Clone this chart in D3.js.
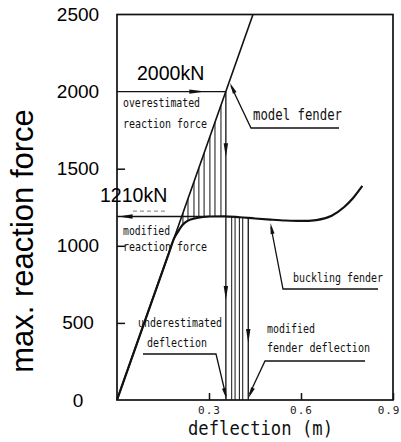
<!DOCTYPE html>
<html><head><meta charset="utf-8">
<script src="https://cdn.jsdelivr.net/npm/d3@7"></script>
<style>body{margin:0;background:#fff}svg{display:block}</style>
</head><body><svg id="c" width="401" height="442"></svg>
<script>
// ---- data ----
const yTicks = [0, 500, 1000, 1500, 2000, 2500];
const yTickMarks = [500, 1000, 1500];
const xTicks = [0.3, 0.6, 0.9];
const xTickLabels = ["0.3", "0.6", "0.9"];
const modelFender = [[0, 0], [0.4434, 2500]];
const bucklingFender = [[0,0],[0.10,564],[0.17,958],[0.185,1043],[0.2,1095],[0.215,1138],[0.23,1162],[0.26,1180],[0.30,1190],[0.35,1191],[0.40,1185],[0.45,1177],[0.50,1170],[0.55,1164],[0.60,1161],[0.65,1167],[0.70,1195],[0.74,1250],[0.77,1310],[0.80,1388]];
const designForce = 2000;      // "2000kN"
const modifiedForce = 1190;    // level of the "1210kN" line as drawn
const overDefl = 0.355;        // underestimated deflection
const modDefl = 0.428;         // modified fender deflection
const overHatchX = [0.215, 0.2315, 0.251, 0.267, 0.284, 0.303, 0.3195, 0.339];
const modHatchX = [0.374, 0.385, 0.399, 0.410];

// ---- setup ----
const svg = d3.select("#c");
const L = 117, R = 393, T = 14.5, B = 400;
const x = d3.scaleLinear().domain([0, 0.9]).range([L, R]);
const y = d3.scaleLinear().domain([0, 2500]).range([B, T]);
const ink = "#111";
const mono = "'DejaVu Sans Mono', 'Liberation Mono', monospace";
const sans = "'Liberation Sans', Arial, sans-serif";

const modelAt = v => modelFender[1][1] / modelFender[1][0] * v;
function buckAt(v) {
  for (let i = 1; i < bucklingFender.length; i++) {
    const [x0, y0] = bucklingFender[i - 1], [x1, y1] = bucklingFender[i];
    if (v <= x1) return y0 + (y1 - y0) * (v - x0) / (x1 - x0);
  }
  return bucklingFender[bucklingFender.length - 1][1];
}
function arrow(tx, ty, dir, len = 13, w = 2.2) {
  let dx, dy;
  if (Array.isArray(dir)) { const n = Math.hypot(dir[0], dir[1]); dx = dir[0] / n; dy = dir[1] / n; }
  else { const m = { r: [1, 0], l: [-1, 0], d: [0, 1], u: [0, -1] }[dir]; dx = m[0]; dy = m[1]; }
  const bx = tx - dx * len, by = ty - dy * len, px = -dy * w, py = dx * w;
  svg.append("path").attr("d", `M${tx},${ty}L${bx + px},${by + py}L${bx - px},${by - py}Z`).attr("fill", ink);
}
svg.append("clipPath").attr("id", "pc").append("rect").attr("x", L).attr("y", T).attr("width", R - L).attr("height", B - T);

// ---- hatching ----
const g = svg.append("g").attr("stroke", ink).attr("stroke-width", 1);
overHatchX.forEach(v => g.append("line").attr("x1", x(v)).attr("x2", x(v)).attr("y1", y(Math.min(modelAt(v), designForce))).attr("y2", y(buckAt(v))));
modHatchX.forEach(v => g.append("line").attr("x1", x(v)).attr("x2", x(v)).attr("y1", y(buckAt(v))).attr("y2", y(0)));

// ---- curves ----
const line = d3.line().x(d => x(d[0])).y(d => y(d[1]));
svg.append("path").datum(modelFender).attr("d", line).attr("fill", "none").attr("stroke", ink).attr("stroke-width", 1.6).attr("clip-path", "url(#pc)");
svg.append("path").datum(bucklingFender).attr("d", line.curve(d3.curveMonotoneX)).attr("fill", "none").attr("stroke", ink).attr("stroke-width", 2.2);

// ---- reference lines & arrows ----
const ref = svg.append("g").attr("stroke", ink).attr("stroke-width", 1.3);
ref.append("line").attr("x1", x(0)).attr("x2", x(overDefl)).attr("y1", y(designForce)).attr("y2", y(designForce));
arrow(x(0.288), y(designForce), "r", 16);
ref.append("line").attr("x1", x(overDefl)).attr("x2", x(overDefl)).attr("y1", y(designForce)).attr("y2", y(0));
arrow(x(overDefl), y(1574), "d", 14);
arrow(x(overDefl), y(648), "d", 14);
ref.append("line").attr("x1", x(modDefl)).attr("x2", x(modDefl)).attr("y1", y(buckAt(modDefl))).attr("y2", y(0));
arrow(x(modDefl), y(369), "d", 14);
ref.append("line").attr("x1", x(0)).attr("x2", x(0.30)).attr("y1", y(modifiedForce)).attr("y2", y(modifiedForce));
arrow(x(0.005), y(modifiedForce), "l", 14);
svg.append("line").attr("x1", x(0.052)).attr("x2", x(0.157)).attr("y1", y(1225)).attr("y2", y(1225))
  .attr("stroke", "#777").attr("stroke-width", 1).attr("stroke-dasharray", "4,3");

// ---- frame & axes ----
svg.append("rect").attr("x", L).attr("y", T).attr("width", R - L).attr("height", B - T)
  .attr("fill", "none").attr("stroke", ink).attr("stroke-width", 1.7);
const ya = svg.append("g").attr("transform", `translate(${L},0)`)
  .call(d3.axisLeft(y).tickValues(yTicks).tickFormat(d3.format("d")).tickSizeInner(0).tickSizeOuter(0).tickPadding(0));
ya.select(".domain").remove();
ya.selectAll("text").attr("x", -39).attr("text-anchor", "middle").attr("font-family", sans).attr("font-size", 19).attr("fill", "#000");
const ym = svg.append("g").attr("transform", `translate(${L},0)`)
  .call(d3.axisLeft(y).tickValues(yTickMarks).tickSizeInner(-8).tickSizeOuter(0).tickFormat(""));
ym.select(".domain").remove();
ym.selectAll("line").attr("stroke", ink).attr("stroke-width", 1.5);
const xa = svg.append("g").attr("transform", `translate(0,${B})`)
  .call(d3.axisBottom(x).tickValues(xTicks).tickSizeInner(-7).tickSizeOuter(0).tickFormat((d, i) => xTickLabels[i]));
xa.select(".domain").remove();
xa.selectAll("line").attr("stroke", ink).attr("stroke-width", 1.5);
xa.selectAll("text").attr("y", 14).attr("dy", 0).attr("font-family", mono).attr("font-size", 11)
  .attr("letter-spacing", "1px").attr("fill", "#222")
  .filter(d => d === 0.9).attr("text-anchor", "end").attr("x", 400 - R);

// axis titles
svg.append("text").attr("transform", "translate(33,241) rotate(-90)").attr("text-anchor", "middle")
  .attr("font-family", sans).attr("font-size", 31).attr("fill", "#000").text("max. reaction force");
svg.append("text").attr("x", 188).attr("y", 435).attr("font-family", mono).attr("font-size", 20)
  .attr("textLength", 145).attr("lengthAdjust", "spacingAndGlyphs").attr("fill", "#111").text("deflection (m)");

// value labels
svg.append("text").attr("x", 137).attr("y", 80).attr("font-family", sans).attr("font-size", 19.5).attr("fill", "#000").text("2000kN");
svg.append("text").attr("x", 100).attr("y", 202).attr("font-family", sans).attr("font-size", 19.5).attr("fill", "#000").text("1210kN");

// annotations
function note(tx, ty, str, len, fs = 12) {
  svg.append("text").attr("x", tx).attr("y", ty).attr("font-family", mono).attr("font-size", fs)
    .attr("textLength", len).attr("lengthAdjust", "spacingAndGlyphs").attr("fill", "#111").text(str);
}
function leader(pts) {
  svg.append("path").attr("d", d3.line()(pts)).attr("fill", "none").attr("stroke", ink).attr("stroke-width", 1.3);
}
note(123, 107, "overestimated", 77);
note(123, 128, "reaction force", 84);
note(123, 235, "modified", 47);
note(123, 251, "reaction force", 84);
note(253, 120, "model fender", 89, 15);
leader([[339, 128], [251, 128], [231, 86]]);
arrow(230, 83, [-20, -42], 11, 2);
note(293, 282, "buckling fender", 90);
leader([[378, 289], [283, 289], [271, 227]]);
arrow(270.5, 223, [-12, -62], 11, 2);
note(138, 327, "underestimated", 84);
note(147, 347, "deflection", 60);
leader([[143, 354], [216, 354], [226, 396]]);
arrow(226.5, 399, [10, 42], 11, 2);
note(267, 333, "modified", 48);
note(267, 352, "fender deflection", 103);
leader([[365, 361], [265, 361], [249.5, 394]]);
arrow(248.5, 398, [-16, 36], 11, 2);
</script></body></html>
